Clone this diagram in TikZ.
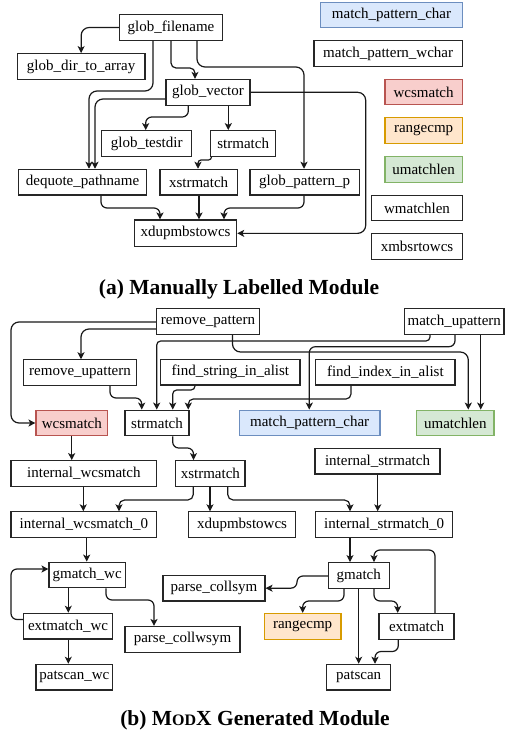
\documentclass[tikz,border=0pt]{standalone}
\usepackage{fontspec}
\setmainfont{Liberation Serif}
\usetikzlibrary{arrows.meta}
\definecolor{bluefill}{HTML}{DAE8FC}\definecolor{blueline}{HTML}{6C8EBF}
\definecolor{redfill}{HTML}{F8CECC}\definecolor{redline}{HTML}{B85450}
\definecolor{orangefill}{HTML}{FFE6CC}\definecolor{orangeline}{HTML}{D79B00}
\definecolor{greenfill}{HTML}{D5E8D4}\definecolor{greenline}{HTML}{82B366}
\begin{document}
\begin{tikzpicture}[x=1pt,y=-1pt,
  box/.style={draw=black!85, line width=1.1pt, fill=white, inner sep=0pt,
    font=\fontsize{15}{18}\selectfont, minimum height=25.7pt},
  bluebox/.style={box, fill=bluefill, draw=blueline},
  redbox/.style={box, fill=redfill, draw=redline},
  orangebox/.style={box, fill=orangefill, draw=orangeline},
  greenbox/.style={box, fill=greenfill, draw=greenline},
  edge/.style={draw=black!90, line width=1.2pt, rounded corners=8pt,
    -{Stealth[length=7pt,width=7pt,inset=1.8pt]}},
  tight/.style={rounded corners=6pt},
  caption/.style={font=\fontsize{21.5}{24}\selectfont\bfseries, inner sep=0pt}]
\useasboundingbox (0,0) rectangle (512,734);

% ---------- (a) ----------
\node[box, minimum width=103.4pt] (gf) at (171,27.5) {glob\_filename};
\node[box, minimum width=127.7pt] (gdta) at (81.15,66.5) {glob\_dir\_to\_array};
\node[box, minimum width=84pt] (gv) at (208,92.3) {glob\_vector};
\node[box, minimum width=90pt] (gtd) at (146.7,143.5) {glob\_testdir};
\node[box, minimum width=65pt] (sma) at (243.2,143.5) {strmatch};
\node[box, minimum width=128.4pt] (dqp) at (82.5,182.15) {dequote\_pathname};
\node[box, minimum width=77.3pt] (xsa) at (198.65,182.15) {xstrmatch};
\node[box, minimum width=109.3pt] (gpp) at (304.65,182.15) {glob\_pattern\_p};
\node[box, minimum width=102.4pt, minimum height=26.7pt] (xda) at (185.5,233.35) {xdupmbstowcs};

\node[bluebox, minimum width=141.6pt] (mpc) at (391.5,15) {match\_pattern\_char};
\node[box, minimum width=148.3pt] (mpw) at (388.15,53.5) {match\_pattern\_wchar};
\node[redbox, minimum width=77.3pt] (wcs) at (423.65,92) {wcsmatch};
\node[orangebox, minimum width=77.3pt] (rcp) at (423.65,130.7) {rangecmp};
\node[greenbox, minimum width=77.3pt] (uml) at (423.65,169.3) {umatchlen};
\node[box, minimum width=90.6pt] (wml) at (417,208) {wmatchlen};
\node[box, minimum width=90.6pt] (xmb) at (417,246.5) {xmbsrtowcs};

\draw[edge] (gf.west) -| (gdta.north);
\draw[edge, rounded corners=5pt] (gf.south -| 171,0) -- (171,68) -- (195,68) -- (gv.north -| 195,0);
\draw[edge] (gf.south -| 197,0) -- (197,67) -- (304,67) -- (gpp.north -| 304,0);
\draw[edge] (gf.south -| 153,0) -- (153,91) -- (89,91) -- (dqp.north -| 89,0);
\draw[edge] (gv.west |- 0,99) -- (95,99) -- (dqp.north -| 95,0);
\draw[edge, tight] (gv.south -| 188.3,0) -- (188.3,117) -- (145.7,117) -- (gtd.north -| 145.7,0);
\draw[edge] (gv.south -| 228.3,0) -- (sma.north -| 228.3,0);
\draw[edge] (gv.east) -- (365.7,92.3) -- (365.7,233.35) -- (xda.east);
\draw[edge, rounded corners=3pt] (sma.south -| 211.5,0) -- (211.5,160) -- (198,160) -- (xsa.north -| 198,0);
\draw[edge, tight] (dqp.south -| 101,0) -- (101,208) -- (160,208) -- (xda.north -| 160,0);
\draw[edge] (xsa.south -| 199,0) -- (xda.north -| 199,0);
\draw[edge, tight] (gpp.south -| 304,0) -- (304,208) -- (224,208) -- (xda.north -| 224,0);

\node[caption] (capa) at (239,289) {(a) Manually Labelled Module};

% ---------- (b) ----------
\node[box, minimum width=103pt] (rp) at (208,321.4) {remove\_pattern};
\node[box, minimum width=99.5pt] (mup) at (454.25,321.4) {match\_upattern};
\node[box, minimum width=113.4pt] (rup) at (80,372.65) {remove\_upattern};
\node[box, minimum width=139.3pt] (fsa) at (230.35,372.15) {find\_string\_in\_alist};
\node[box, minimum width=139.3pt] (fia) at (385.35,372.15) {find\_index\_in\_alist};
\node[redbox, minimum width=71.7pt] (wcsb) at (71.85,423) {wcsmatch};
\node[box, minimum width=64pt] (smb) at (157,423) {strmatch};
\node[bluebox, minimum width=140.7pt] (mpcb) at (309.65,423) {match\_pattern\_char};
\node[greenbox, minimum width=77.3pt] (umlb) at (455.35,423) {umatchlen};
\node[box, minimum width=145.7pt] (iw) at (83.85,473.5) {internal\_wcsmatch};
\node[box, minimum width=69.3pt] (xsb) at (210.35,473.5) {xstrmatch};
\node[box, minimum width=125pt] (is) at (377.5,461.15) {internal\_strmatch};
\node[box, minimum width=145.7pt] (iw0) at (83.85,524.7) {internal\_wcsmatch\_0};
\node[box, minimum width=107.4pt] (xdb) at (242,524.7) {xdupmbstowcs};
\node[box, minimum width=137pt] (is0) at (384.2,524.7) {internal\_strmatch\_0};
\node[box, minimum width=76.3pt] (gwc) at (87.15,575) {gmatch\_wc};
\node[box, minimum width=102pt] (pcs) at (214,588.15) {parse\_collsym};
\node[box, minimum width=61pt] (gm) at (358.8,575.5) {gmatch};
\node[box, minimum width=89.4pt] (ewc) at (68,626.15) {extmatch\_wc};
\node[box, minimum width=115pt] (pcw) at (182.5,639.35) {parse\_collwsym};
\node[orangebox, minimum width=76.7pt] (rcb) at (302.65,626.3) {rangecmp};
\node[box, minimum width=75pt] (em) at (416.5,626.3) {extmatch};
\node[box, minimum width=76.7pt] (pwc) at (74.35,677.15) {patscan\_wc};
\node[box, minimum width=64pt] (ps) at (358.7,677.15) {patscan};

\draw[edge] (rp.west |- 0,322) -- (11,322) -- (11,423) -- (wcsb.west);
\draw[edge] (rp.west |- 0,329) -- (81,329) -- (rup.north -| 81,0);
\draw[edge, tight] (rup.south -| 110,0) -- (110,398) -- (141.7,398) -- (smb.north -| 141.7,0);
\draw[edge, rounded corners=4pt] (mup.south -| 430,0) -- (430,341) -- (156.7,341) -- (smb.north -| 156.7,0);
\draw[edge, rounded corners=4pt] (fsa.south -| 195,0) -- (195,390) -- (172.7,390) -- (smb.north -| 172.7,0);
\draw[edge, rounded corners=5pt] (fia.south -| 351,0) -- (351,399) -- (188.3,399) -- (smb.north -| 188.3,0);
\draw[edge] (rp.south -| 232.5,0) -- (232.5,352) -- (468.3,352) -- (umlb.north -| 468.3,0);
\draw[edge, tight] (mup.south -| 455,0) -- (455,346.7) -- (309.3,346.7) -- (mpcb.north -| 309.3,0);
\draw[edge] (mup.south -| 480.7,0) -- (umlb.north -| 480.7,0);
\draw[edge] (wcsb.south -| 71.7,0) -- (iw.north -| 71.7,0);
\draw[edge, tight] (smb.south -| 172.7,0) -- (172.7,448) -- (193.5,448) -- (xsb.north -| 193.5,0);
\draw[edge] (is.south -| 377.7,0) -- (is0.north -| 377.7,0);
\draw[edge] (iw.south -| 83.3,0) -- (iw0.north -| 83.3,0);
\draw[edge, rounded corners=5.5pt] (xsb.south -| 193.3,0) -- (193.3,500) -- (119,500) -- (iw0.north -| 119,0);
\draw[edge] (xsb.south -| 210,0) -- (xdb.north -| 210,0);
\draw[edge, rounded corners=5.5pt] (xsb.south -| 227.7,0) -- (227.7,500) -- (350,500) -- (is0.north -| 350,0);
\draw[edge] (iw0.south -| 86.7,0) -- (gwc.north -| 86.7,0);
\draw[edge] (is0.south -| 350,0) -- (gm.north -| 350,0);
\draw[edge, tight] (em.north -| 435,0) -- (435,550) -- (374,550) -- (gm.north -| 374,0);
\draw[edge] (gwc.south -| 68.3,0) -- (ewc.north -| 68.3,0);
\draw[edge, tight] (ewc.west |- 0,619.5) -- (11,619.5) -- (11,569) -- (gwc.west |- 0,569);
\draw[edge, tight] (gwc.south -| 106,0) -- (106,600) -- (154,600) -- (pcw.north -| 154,0);
\draw[edge] (ewc.south -| 68.3,0) -- (pwc.north -| 68.3,0);
\draw[edge, tight] (gm.west |- 0,576) -- (297,576) -- (297,588.15) -- (pcs.east);
\draw[edge, tight] (gm.south -| 344,0) -- (344,601) -- (302.7,601) -- (rcb.north -| 302.7,0);
\draw[edge] (gm.south -| 358.7,0) -- (ps.north -| 358.7,0);
\draw[edge, tight] (gm.south -| 374,0) -- (374,601) -- (397.7,601) -- (em.north -| 397.7,0);
\draw[edge, tight] (em.south -| 398.3,0) -- (398.3,651.5) -- (375,651.5) -- (ps.north -| 375,0);

\node[caption] (capb) at (255,720) {(b) M{\fontsize{16}{18}\selectfont OD}X Generated Module};
\end{tikzpicture}
\end{document}
